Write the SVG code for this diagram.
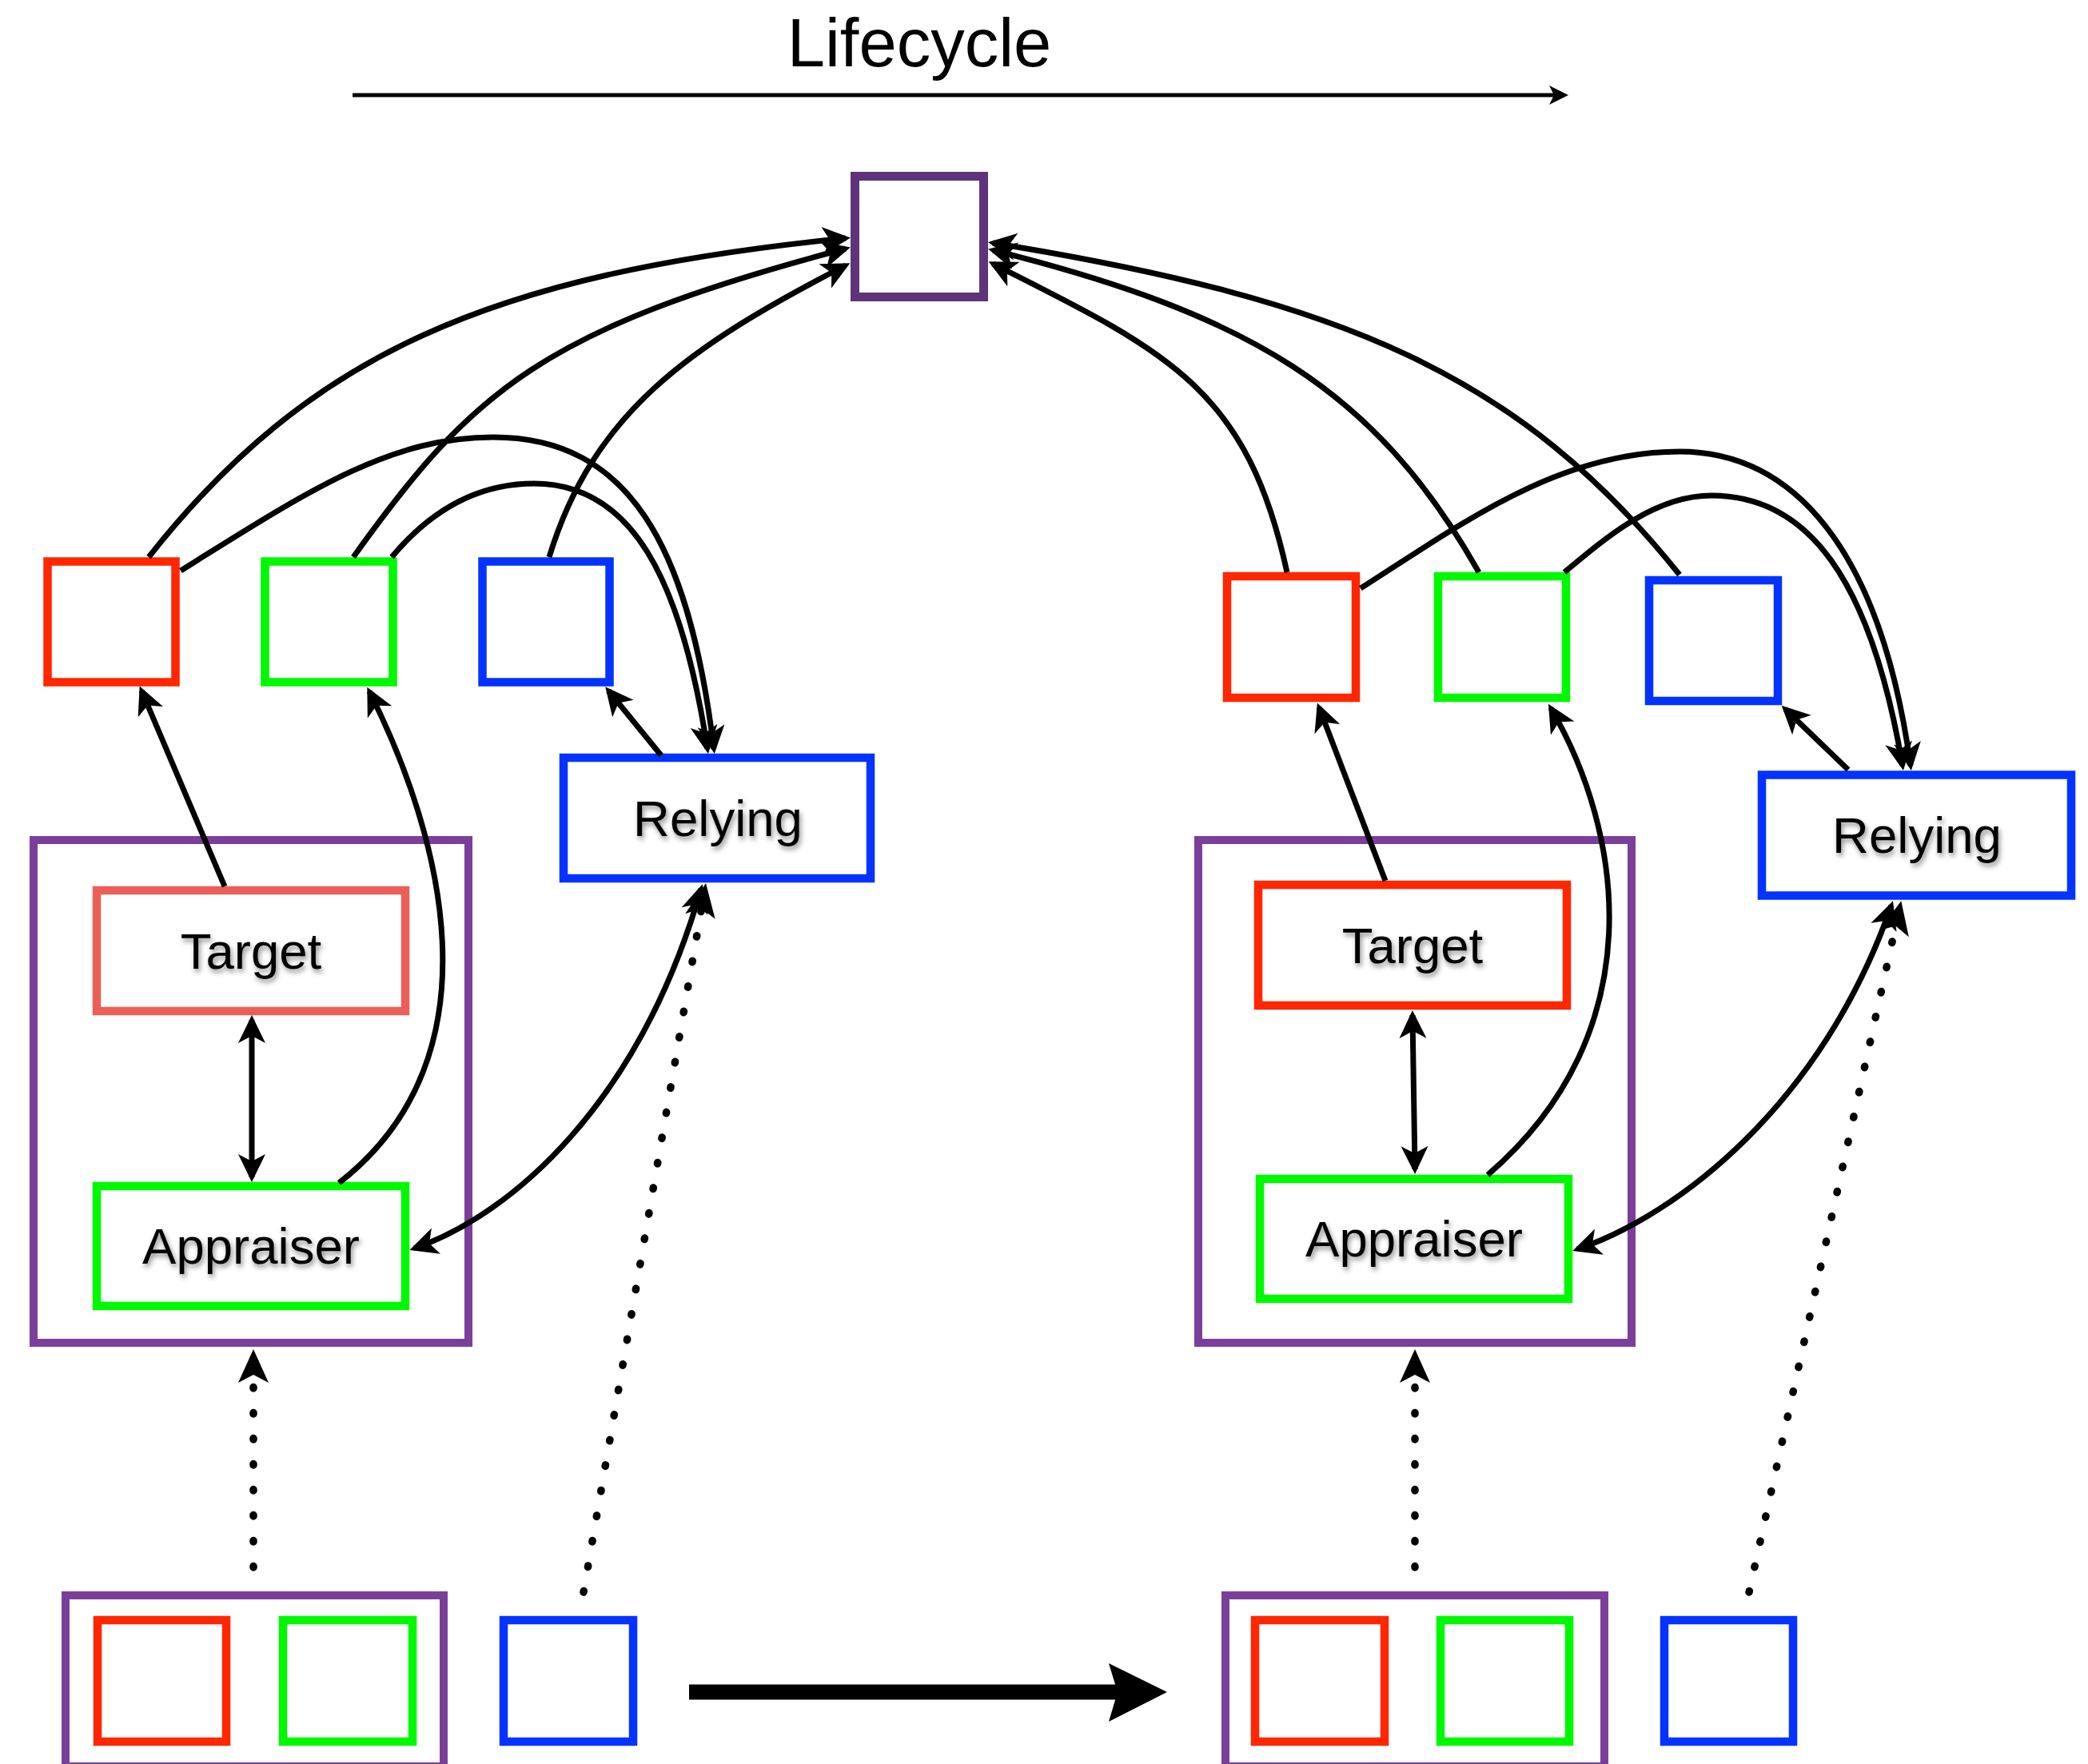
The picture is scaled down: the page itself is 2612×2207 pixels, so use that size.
<svg xmlns="http://www.w3.org/2000/svg" width="2612" height="2207" viewBox="0 0 2612 2207">
  <defs>
    <marker id="arrow" markerUnits="userSpaceOnUse" viewBox="-32 -18 40 36" markerWidth="40" markerHeight="36" refX="0" refY="0" orient="auto-start-reverse">
      <path d="M6,0 L-29,-17 L-20,0 L-29,17 Z" fill="#000"/>
    </marker>
    <marker id="arrow-dot" markerUnits="userSpaceOnUse" viewBox="-40 -21 48 42" markerWidth="48" markerHeight="42" refX="0" refY="0" orient="auto">
      <path d="M6,0 L-36,-19 L-26,0 L-36,19 Z" fill="#000"/>
    </marker>
    <filter id="shadow" x="-20%" y="-30%" width="140%" height="170%">
      <feDropShadow dx="2" dy="4" stdDeviation="3" flood-color="#000" flood-opacity="0.45"/>
    </filter>
  </defs>
  <style>
    .box { fill: #fff; stroke-width: 10.5; }
    .red { stroke: #ff2600; }
    .salmon { stroke: #eb5f58; }
    .green { stroke: #00f900; }
    .blue { stroke: #0433ff; }
    .purple { stroke: #7b3f9b; fill: none; stroke-width: 10; }
    .store { stroke: #5e337a; fill: #fff; stroke-width: 11; }
    .label { font-family: "Liberation Sans", Arial, Helvetica, sans-serif; font-size: 63.5px; fill: #000; text-anchor: middle; filter: url(#shadow); }
    .title { font-family: "Liberation Sans", Arial, Helvetica, sans-serif; font-size: 85px; fill: #000; text-anchor: middle; }
    .link { fill: none; stroke: #000; stroke-width: 7; }
    .arrow-end { marker-end: url(#arrow); }
    .arrow-both { marker-start: url(#arrow); marker-end: url(#arrow); }
    .dots { fill: none; stroke: #000; stroke-width: 9.5; stroke-linecap: round; stroke-dasharray: 1.5 30.5; marker-end: url(#arrow-dot); }
  </style>

  <!-- timeline heading -->
  <g id="lifecycle">
    <text class="title" x="1150" y="83">Lifecycle</text>
    <line x1="441" y1="119" x2="1944" y2="119" stroke="#000" stroke-width="5"/>
    <polygon points="1962,119 1938,107 1944,119 1938,131" fill="#000"/>
  </g>

  <!-- shared store at the top -->
  <g id="store">
    <rect class="store" x="1069.5" y="220.5" width="161" height="151"/>
  </g>

  <!-- first stage -->
  <g id="stage1-evidence-red"><rect class="box red" x="59.5" y="702.5" width="160" height="151"/></g>
  <g id="stage1-evidence-green"><rect class="box green" x="331.5" y="702.5" width="160" height="151"/></g>
  <g id="stage1-evidence-blue"><rect class="box blue" x="603.5" y="702.5" width="159" height="151"/></g>
  <g id="stage1-relying">
    <rect class="box blue" x="705" y="948" width="384" height="151"/>
    <text class="label" x="898" y="1046">Relying</text>
  </g>
  <g id="stage1-device">
    <rect class="purple" x="42" y="1051" width="544" height="629"/>
  </g>
  <g id="stage1-target">
    <rect class="box salmon" x="121" y="1114" width="386" height="151"/>
    <text class="label" x="314" y="1212">Target</text>
  </g>
  <g id="stage1-appraiser">
    <rect class="box green" x="121" y="1484" width="386" height="150"/>
    <text class="label" x="314" y="1581">Appraiser</text>
  </g>

  <!-- second stage -->
  <g id="stage2-evidence-red"><rect class="box red" x="1535" y="721" width="161" height="152"/></g>
  <g id="stage2-evidence-green"><rect class="box green" x="1799" y="721" width="160" height="152"/></g>
  <g id="stage2-evidence-blue"><rect class="box blue" x="2063" y="726" width="161" height="151"/></g>
  <g id="stage2-relying">
    <rect class="box blue" x="2204" y="969.5" width="387" height="151"/>
    <text class="label" x="2398" y="1067">Relying</text>
  </g>
  <g id="stage2-device">
    <rect class="purple" x="1499" y="1051" width="542" height="629"/>
  </g>
  <g id="stage2-target">
    <rect class="box red" x="1574" y="1107" width="386" height="151"/>
    <text class="label" x="1767" y="1205">Target</text>
  </g>
  <g id="stage2-appraiser">
    <rect class="box green" x="1576" y="1475" width="386" height="150"/>
    <text class="label" x="1769" y="1572">Appraiser</text>
  </g>

  <!-- provisioning bundles at the bottom -->
  <g id="bundle1">
    <rect class="purple" x="82" y="1996" width="473" height="214"/>
    <rect class="box red" x="122" y="2027" width="161" height="152"/>
    <rect class="box green" x="354" y="2027" width="162" height="152"/>
  </g>
  <g id="bundle1-blue"><rect class="box blue" x="630" y="2027" width="162" height="152"/></g>
  <g id="bundle2">
    <rect class="purple" x="1533" y="1996" width="474" height="214"/>
    <rect class="box red" x="1570" y="2027" width="162" height="152"/>
    <rect class="box green" x="1802" y="2027" width="161" height="152"/>
  </g>
  <g id="bundle2-blue"><rect class="box blue" x="2082" y="2027" width="161" height="152"/></g>

  <g id="connectors">
    <!-- stage 1: evidence to store -->
    <path class="link arrow-end" d="M186,697 C386,444 610,343 1058,298"/>
    <path class="link arrow-end" d="M442,697 C592,487 680,411 1058,311"/>
    <path class="link arrow-end" d="M687,697 C742,517 860,434 1058,332"/>
    <!-- stage 1: evidence to relying party -->
    <path class="link arrow-end" d="M226,714 C386,614 487,547 617,547 C787,547 862,683 893,937"/>
    <path class="link arrow-end" d="M490,697 C540,637 598,605 668,605 C790,605 852,723 885,937"/>
    <path class="link arrow-end" d="M827,945 L761,864"/>
    <path class="link arrow-end" d="M281,1109 L177,864"/>
    <path class="link arrow-end" d="M424,1480 C630,1320 550,1040 462,865"/>
    <path class="link arrow-both" d="M315,1276 L315,1473"/>
    <path class="link arrow-both" d="M518,1562 C640,1520 800,1380 877,1112"/>
    <path class="dots" d="M317,1961 L317,1694"/>
    <path class="dots" d="M730,1992 L882,1111"/>

    <!-- stage 2: evidence to store -->
    <path class="link arrow-end" d="M1610,716 C1560,486 1461,440 1242,330"/>
    <path class="link arrow-end" d="M1850,716 C1720,486 1561,393 1242,313"/>
    <path class="link arrow-end" d="M2101,719 C1901,469 1681,375 1242,304"/>
    <!-- stage 2: evidence to relying party -->
    <path class="link arrow-end" d="M1702,736 C1832,653 1951,565 2101,565 C2241,565 2352,683 2390,958"/>
    <path class="link arrow-end" d="M1957,716 C2012,670 2071,620 2141,620 C2261,620 2340,723 2380,958"/>
    <path class="link arrow-end" d="M2312,963 L2233,887"/>
    <path class="link arrow-end" d="M1733,1102 L1650,885"/>
    <path class="link arrow-end" d="M1861,1470 C2070,1290 2030,1040 1940,886"/>
    <path class="link arrow-both" d="M1767,1270 L1770,1463"/>
    <path class="link arrow-both" d="M1973,1563 C2100,1520 2280,1380 2366,1133"/>
    <path class="dots" d="M1770,1961 L1770,1694"/>
    <path class="dots" d="M2188,1992 L2377,1133"/>

    <!-- transition between bundles -->
    <line x1="862" y1="2117" x2="1400" y2="2117" stroke="#000" stroke-width="19"/>
    <polygon points="1387,2081 1460,2117 1387,2154 1398,2117" fill="#000"/>
  </g>
</svg>
